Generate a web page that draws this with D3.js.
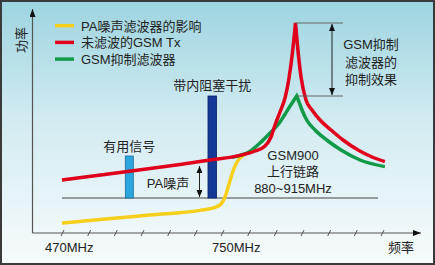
<!DOCTYPE html>
<meta charset="utf-8">
<title>GSM 抑制滤波器</title>
<script src="https://d3js.org/d3.v7.min.js"></script>
<style>
body { margin: 0; }
svg { display: block; font-family: "Liberation Sans", Arial, "Noto Sans CJK SC", sans-serif; }
text { fill: #222; font-size: 13px; }
</style>
<body>
<div id="vis"></div>
<script>

// frequency in MHz, power in relative units
var tickMHz = [470, 516.7, 563.3, 610, 656.7, 703.3, 750, 796.7, 843.3, 890, 936.7, 983.3, 1030];
var tickLabels = [["470MHz", 470, -17], ["750MHz", 750, -10]];

var legendLabels = ["PA噪声滤波器的影响", "未滤波的GSM Tx", "GSM抑制滤波器"];
var legendColors = ["#f6cf1a", "#e0001b", "#119a48"];

// PA noise (yellow)
var paNoise = [[470, 4.5], [536.5, 6.2], [624, 8.5], [711.5, 10.8], [737.8, 12.3], [748.3, 14],
  [755.3, 17.5], [762.3, 24], [769.3, 30.5], [776.3, 35], [783.3, 37.5], [792, 39]];

// unfiltered GSM Tx (red), left and right of the carrier peak
var txLeft = [[470, 26], [571.5, 29.8], [676.5, 33.8], [729, 36], [781.5, 38.3], [807.8, 40.5],
  [825.3, 43], [835.8, 47.5], [842.8, 53.5], [851.5, 60], [860.3, 67], [867.3, 77], [873.4, 90], [878.6, 104.5]];
var txRight = [[878.6, 104.5], [882, 93.5], [888.3, 77.5], [897, 66], [907.5, 61], [921.5, 56],
  [940.8, 51], [961.8, 46], [988, 41], [1012.5, 37.5], [1035, 35.2]];

// with GSM suppression filter (green)
var filtLeft = [[767.5, 37.3], [781.5, 38.3], [799, 40.3], [816.5, 44.5], [834, 49.5], [849, 54],
  [859.5, 58.5], [868, 62.5], [875, 65.5], [880.7, 68]];
var filtRight = [[880.7, 68], [884.8, 65], [890, 61], [898.2, 56], [912.8, 51], [933.2, 46],
  [958.3, 41], [991.5, 36], [1035, 32.7]];

var noiseFloor = 17;
var wanted = {f: 587.8, p: 38};
var blocker = {f: 733, p: 68};
var paNoiseArrow = {f: 710.6, lo: 17, hi: 33};
var suppArrow = {f: 942.5, lo: 68, hi: 104.5};

var W = 435, H = 265;

var x = d3.scaleLinear().domain([470, 750]).range([62, 222]);
var y = d3.scaleLinear().domain([0, 110]).range([232, 12]);

var svg = d3.select("#vis").append("svg")
  .attr("width", W)
  .attr("height", H);

var defs = svg.append("defs");
var grad = defs.append("linearGradient")
  .attr("id", "bg")
  .attr("x1", 0).attr("y1", 0).attr("x2", 0).attr("y2", 1);
grad.append("stop").attr("offset", "0").attr("stop-color", "#9dd4e0");
grad.append("stop").attr("offset", "0.45").attr("stop-color", "#d2ebf1");
grad.append("stop").attr("offset", "1").attr("stop-color", "#f7fbfc");

function marker(id, len, wid) {
  defs.append("marker")
    .attr("id", id)
    .attr("viewBox", "0 0 10 10")
    .attr("refX", 10).attr("refY", 5)
    .attr("markerUnits", "userSpaceOnUse")
    .attr("markerWidth", len).attr("markerHeight", wid)
    .attr("orient", "auto-start-reverse")
    .attr("preserveAspectRatio", "none")
    .append("path")
    .attr("d", "M0,0L10,5L0,10Z")
    .attr("fill", "#111");
}
marker("axisArrow", 8, 6);
marker("dimArrow", 7, 6);

svg.append("rect")
  .attr("x", 1).attr("y", 1)
  .attr("width", W - 2).attr("height", H - 2)
  .attr("fill", "url(#bg)")
  .attr("stroke", "#3a3a3a")
  .attr("stroke-width", 2);

// axes
var x0 = 32.5, yBase = 233;
svg.append("line")
  .attr("x1", x0).attr("y1", yBase).attr("x2", x0).attr("y2", 9)
  .attr("stroke", "#555").attr("stroke-width", 1.2)
  .attr("marker-end", "url(#axisArrow)");
svg.append("line")
  .attr("x1", x0).attr("y1", yBase).attr("x2", 421).attr("y2", yBase)
  .attr("stroke", "#555").attr("stroke-width", 1.2)
  .attr("marker-end", "url(#axisArrow)");

var xAxis = svg.append("g")
  .attr("transform", "translate(0," + yBase + ")")
  .call(d3.axisBottom(x).tickValues(tickMHz).tickFormat(""));
xAxis.select(".domain").remove();
xAxis.selectAll(".tick line")
  .attr("x1", -1.5).attr("y1", 3).attr("x2", 1.5).attr("y2", -3)
  .attr("stroke", "#555");

svg.selectAll(".xlab")
  .data(tickLabels)
  .enter().append("text")
  .attr("class", "xlab")
  .attr("x", function(d) { return x(d[1]) + d[2]; })
  .attr("y", 252)
  .text(function(d) { return d[0]; });

svg.append("text").attr("x", 388).attr("y", 252).text("频率");
svg.append("text")
  .attr("transform", "translate(26,40) rotate(-90)")
  .attr("text-anchor", "middle")
  .text("功率");

// noise floor line
svg.append("line")
  .attr("x1", x(470)).attr("x2", x(1023))
  .attr("y1", y(noiseFloor)).attr("y2", y(noiseFloor))
  .attr("stroke", "#444").attr("stroke-width", 1.1);

// bars
svg.append("rect")
  .attr("x", x(wanted.f) - 4).attr("width", 8)
  .attr("y", y(wanted.p)).attr("height", y(noiseFloor) - y(wanted.p))
  .attr("fill", "#2ba6de").attr("stroke", "#1a6c9c").attr("stroke-width", 0.8);
svg.append("rect")
  .attr("x", x(blocker.f) - 4.3).attr("width", 8.6)
  .attr("y", y(blocker.p)).attr("height", y(noiseFloor) - y(blocker.p))
  .attr("fill", "#143896").attr("stroke", "#0b2266").attr("stroke-width", 0.8);

// curves
var line = d3.line()
  .x(function(d) { return x(d[0]); })
  .y(function(d) { return y(d[1]); })
  .curve(d3.curveMonotoneX);

function peakPath(a, b) {
  return line(a) + line(b).replace(/^M/, "L");
}

svg.append("path")
  .attr("d", line(paNoise))
  .attr("fill", "none").attr("stroke", legendColors[0]).attr("stroke-width", 3.5);
svg.append("path")
  .attr("d", peakPath(filtLeft, filtRight))
  .attr("fill", "none").attr("stroke", legendColors[2]).attr("stroke-width", 3.5);
svg.append("path")
  .attr("d", peakPath(txLeft, txRight))
  .attr("fill", "none").attr("stroke", legendColors[1]).attr("stroke-width", 3.5);

// suppression dimension
[suppArrow.hi, suppArrow.lo].forEach(function(p) {
  svg.append("line")
    .attr("x1", x(878.6) + (p === suppArrow.lo ? 2 : 0)).attr("x2", x(961.8))
    .attr("y1", y(p)).attr("y2", y(p))
    .attr("stroke", "#666").attr("stroke-width", 1);
});
svg.append("line")
  .attr("x1", x(suppArrow.f)).attr("x2", x(suppArrow.f))
  .attr("y1", y(suppArrow.hi) + 1).attr("y2", y(suppArrow.lo) - 1)
  .attr("stroke", "#222").attr("stroke-width", 1)
  .attr("marker-start", "url(#dimArrow)")
  .attr("marker-end", "url(#dimArrow)");

svg.append("line")
  .attr("x1", x(paNoiseArrow.f)).attr("x2", x(paNoiseArrow.f))
  .attr("y1", y(paNoiseArrow.hi)).attr("y2", y(paNoiseArrow.lo) - 1)
  .attr("stroke", "#222").attr("stroke-width", 1)
  .attr("marker-start", "url(#dimArrow)")
  .attr("marker-end", "url(#dimArrow)");

// annotations
function block(lines, cx, by, dy) {
  svg.append("text")
    .attr("text-anchor", "middle")
    .selectAll("tspan")
    .data(lines)
    .enter().append("tspan")
    .attr("x", cx)
    .attr("y", function(d, i) { return by + i * dy; })
    .text(function(d) { return d; });
}
block(["GSM抑制", "滤波器的", "抑制效果"], 371, 49, 17.5);
block(["GSM900", "上行链路", "880~915MHz"], 293, 160, 16.3);
block(["带内阻塞干扰"], x(blocker.f), y(blocker.p) - 6, 0);
block(["有用信号"], x(wanted.f), y(wanted.p) - 5, 0);
block(["PA噪声"], 168, 188, 0);

// legend
var legend = svg.selectAll(".legend")
  .data(legendLabels)
  .enter().append("g")
  .attr("class", "legend")
  .attr("transform", function(d, i) { return "translate(55," + (25.7 + i * 16.7) + ")"; });
legend.append("line")
  .attr("x1", 0).attr("x2", 19)
  .attr("stroke", function(d, i) { return legendColors[i]; })
  .attr("stroke-width", 3.5);
legend.append("text")
  .attr("x", 26).attr("y", 5)
  .text(function(d) { return d; });

</script>
</body>
